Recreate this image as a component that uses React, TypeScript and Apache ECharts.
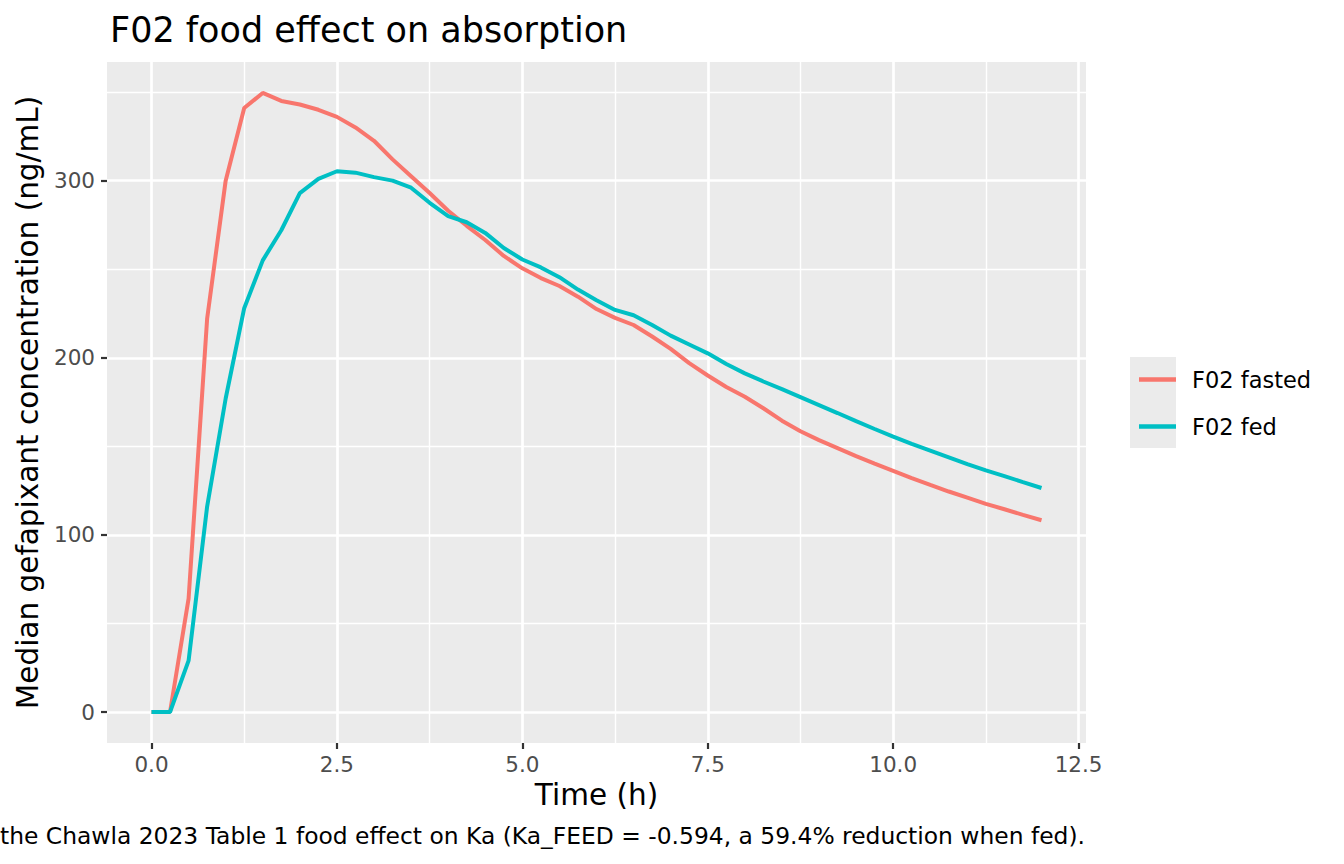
import React, { useEffect, useRef } from "react";
import * as echarts from "echarts";

const times: number[] = [
  0, 0.25, 0.5, 0.75, 1, 1.25, 1.5, 1.75, 2, 2.25, 2.5, 2.75, 3, 3.25, 3.5, 3.75,
  4, 4.25, 4.5, 4.75, 5, 5.25, 5.5, 5.75, 6, 6.25, 6.5, 6.75, 7, 7.25, 7.5, 7.75,
  8, 8.25, 8.5, 8.75, 9, 9.25, 9.5, 9.75, 10, 10.25, 10.5, 10.75, 11, 11.25, 11.5,
  11.75, 12,
];

const fasted: number[] = [
  0, 0, 64, 222, 300, 341, 349.5, 345, 343, 340, 336, 330, 322.5, 312, 302.5, 293,
  283, 274.5, 266.5, 257.5, 250.5, 245, 240.5, 234.5, 227.5, 222.5, 218.5, 212, 205,
  197, 190, 183.5, 178, 171.5, 164.5, 158.5, 153.5, 149, 144.5, 140.3, 136.2, 132,
  128.2, 124.5, 121, 117.5, 114.5, 111.3, 108.3,
];

const fed: number[] = [
  0, 0, 29, 116, 177, 228, 255, 272, 293, 301, 305.3, 304.5, 302, 300, 296, 287.5,
  280, 276.5, 270.5, 262, 255.5, 251, 245.5, 238.5, 232.5, 227, 224, 218.5, 212.5,
  207.5, 202.5, 196.5, 191.2, 186.6, 182.3, 177.8, 173.3, 168.8, 164.2, 159.8, 155.5,
  151.4, 147.6, 143.8, 140, 136.4, 133.2, 129.8, 126.5,
];

const seriesNames: string[] = ["F02 fasted", "F02 fed"];
const seriesColors: string[] = ["#F8766D", "#00BFC4"];

const xMajor: number[] = [0, 2.5, 5, 7.5, 10, 12.5];
const xMinor: number[] = [1.25, 3.75, 6.25, 8.75, 11.25];
const yMajor: number[] = [0, 100, 200, 300];
const yMinor: number[] = [50, 150, 250, 350];

const titleText = "F02 food effect on absorption";
const xTitle = "Time (h)";
const yTitle = "Median gefapixant concentration (ng/mL)";
const captionText =
  "the Chawla 2023 Table 1 food effect on Ka (Ka_FEED = -0.594, a 59.4% reduction when fed).";

const FONT = '"DejaVu Sans", "Liberation Sans", sans-serif';

export default function App() {
  const ref = useRef<HTMLDivElement>(null);

  useEffect(() => {
    if (!ref.current) return;
    const chart = echarts.init(ref.current, undefined, { renderer: "svg" });

    const xMinData = Math.min(...times);
    const xMaxData = Math.max(...times);
    const xPad = (xMaxData - xMinData) * 0.05;
    const allY = [...fasted, ...fed];
    const yMinData = Math.min(...allY);
    const yMaxData = Math.max(...allY);
    const yPad = (yMaxData - yMinData) * 0.05;

    const gridLines = [
      ...xMinor.map((v) => ({ xAxis: v, lineStyle: { color: "#FFFFFF", width: 1.4, type: "solid" } })),
      ...yMinor.map((v) => ({ yAxis: v, lineStyle: { color: "#FFFFFF", width: 1.4, type: "solid" } })),
      ...xMajor.map((v) => ({ xAxis: v, lineStyle: { color: "#FFFFFF", width: 2.7, type: "solid" } })),
      ...yMajor.map((v) => ({ yAxis: v, lineStyle: { color: "#FFFFFF", width: 2.7, type: "solid" } })),
    ];

    const option: any = {
      animation: false,
      backgroundColor: "#FFFFFF",
      title: {
        text: titleText,
        left: 105,
        top: 7,
        textStyle: { fontFamily: FONT, fontSize: 35, fontWeight: "normal", color: "#000000" },
      },
      grid: {
        left: 107,
        top: 62,
        width: 979,
        height: 681,
        show: true,
        backgroundColor: "#EBEBEB",
        borderWidth: 0,
        containLabel: false,
      },
      legend: {
        data: seriesNames,
        orient: "vertical",
        left: 1134,
        top: 363,
        itemWidth: 37,
        itemHeight: 4.3,
        itemGap: 24,
        icon: "rect",
        textStyle: { fontFamily: FONT, fontSize: 22.5, color: "#000000", padding: [0, 0, 0, 11] },
      },
      xAxis: {
        type: "value",
        min: xMinData - xPad,
        max: xMaxData + xPad,
        name: xTitle,
        nameLocation: "middle",
        nameGap: 37,
        nameTextStyle: { fontFamily: FONT, fontSize: 29.5, color: "#000000" },
        axisLine: { show: false, onZero: false },
        axisTick: {
          show: true,
          length: 6,
          customValues: xMajor,
          lineStyle: { color: "#333333", width: 2.2 },
        },
        axisLabel: {
          show: true,
          customValues: xMajor,
          margin: 10,
          fontFamily: FONT,
          fontSize: 21.5,
          color: "#4D4D4D",
          formatter: (v: number) => v.toFixed(1),
        },
        splitLine: { show: false },
        minorSplitLine: { show: false },
      },
      yAxis: {
        type: "value",
        min: yMinData - yPad,
        max: yMaxData + yPad,
        name: yTitle,
        nameLocation: "middle",
        nameGap: 64,
        nameTextStyle: { fontFamily: FONT, fontSize: 29.5, color: "#000000" },
        axisLine: { show: false, onZero: false },
        axisTick: {
          show: true,
          length: 6,
          customValues: yMajor,
          lineStyle: { color: "#333333", width: 2.2 },
        },
        axisLabel: {
          show: true,
          customValues: yMajor,
          margin: 12,
          fontFamily: FONT,
          fontSize: 21.5,
          color: "#4D4D4D",
          formatter: (v: number) => String(Math.round(v)),
        },
        splitLine: { show: false },
        minorSplitLine: { show: false },
      },
      graphic: [
        {
          type: "rect",
          z: 0,
          shape: { x: 1130, y: 357, width: 46, height: 91 },
          style: { fill: "#EBEBEB" },
        },
        {
          type: "text",
          z: 10,
          x: 0,
          y: 836,
          style: {
            text: captionText,
            fontFamily: FONT,
            fontSize: 23.4,
            fill: "#000000",
            align: "left",
            verticalAlign: "middle",
          },
        },
      ],
      series: [
        {
          name: "__grid",
          type: "line",
          data: [],
          z: 1,
          silent: true,
          markLine: {
            silent: true,
            z: 1,
            symbol: ["none", "none"],
            label: { show: false },
            emphasis: { disabled: true },
            animation: false,
            data: gridLines,
          },
        },
        {
          name: seriesNames[0],
          type: "line",
          data: times.map((t, i) => [t, fasted[i]]),
          showSymbol: false,
          symbol: "none",
          z: 3,
          color: seriesColors[0],
          lineStyle: { color: seriesColors[0], width: 4 },
          emphasis: { disabled: true },
        },
        {
          name: seriesNames[1],
          type: "line",
          data: times.map((t, i) => [t, fed[i]]),
          showSymbol: false,
          symbol: "none",
          z: 3,
          color: seriesColors[1],
          lineStyle: { color: seriesColors[1], width: 4 },
          emphasis: { disabled: true },
        },
      ],
    };

    chart.setOption(option);
    return () => {
      chart.dispose();
    };
  }, []);

  return (
    <div
      ref={ref}
      style={{ position: "fixed", left: 0, top: 0, width: 1344, height: 864, background: "#FFFFFF" }}
    />
  );
}
